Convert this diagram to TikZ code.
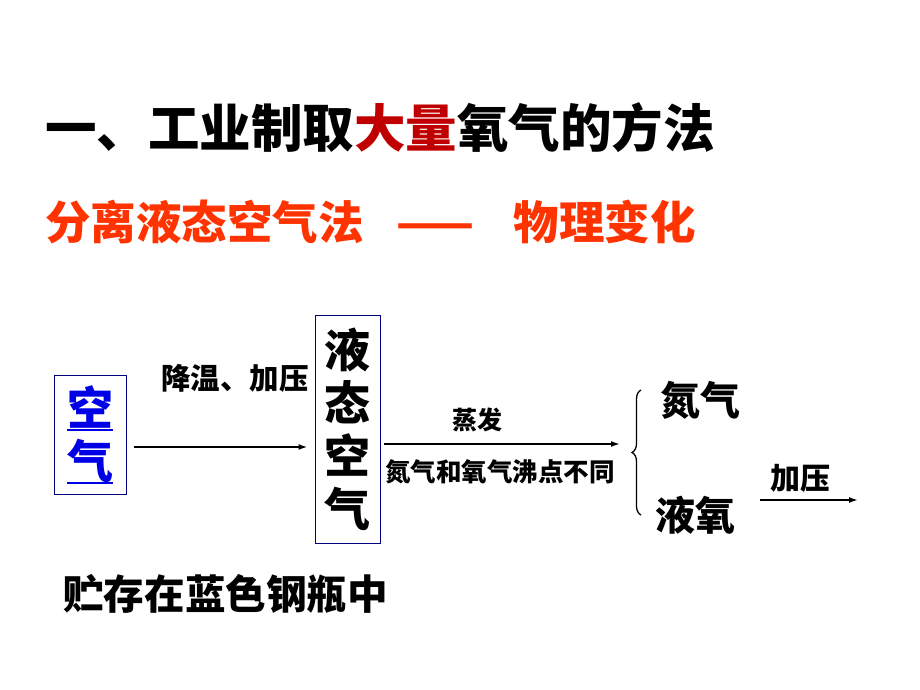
\documentclass[tikz,border=0pt]{standalone}
\usepackage{fontspec}
\newfontfamily\cjk{Noto Sans CJK SC}
\usetikzlibrary{arrows.meta,decorations.pathreplacing}
\definecolor{titlered}{RGB}{192,0,0}
\definecolor{methodred}{RGB}{255,51,0}
\definecolor{boxblue}{RGB}{0,0,128}
\definecolor{airblue}{RGB}{0,0,230}
\newcommand{\csize}[1]{\fontsize{#1}{53}\selectfont}
\newcommand{\ulchar}[1]{\rlap{\rule[-5pt]{1em}{1.5pt}}#1}
\begin{document}
\begin{tikzpicture}[x=1pt,y=-1pt,
  every node/.style={font=\cjk\bfseries, inner sep=0pt},
  stagebox/.style={draw=boxblue, line width=1pt, align=center},
  flow/.style={line width=1.6pt,-{Latex[length=9pt,width=6pt]}}]
\useasboundingbox (0,0) rectangle (920,690);

% headings
\node[anchor=west,font=\cjk\bfseries\csize{51.5}] (title) at (45,128) {一、工业制取\textcolor{titlered}{大量}氧气的方法};
\node[anchor=west,text=methodred,font=\cjk\bfseries\csize{45.5}] (method) at (45,222) {分离液态空气法\hspace{33pt}——\hspace{39pt}物理变化};

% the two boxes
\node[stagebox,text=airblue,minimum width=72pt,minimum height=119pt,font=\cjk\bfseries\csize{46}] (air) at (90,435) {\ulchar{空}\\\ulchar{气}};
\node[stagebox,minimum width=65pt,minimum height=228pt,font=\cjk\bfseries\csize{46}] (liqair) at (347.5,429) {液\\态\\空\\气};

\draw[flow] ([shift={(7,12)}]air.east) -- ([shift={(-7,18)}]liqair.west);
\node[font=\cjk\bfseries\csize{29.5}] (cool) at (235,378) {降温、加压};

\coordinate (split) at (620,444);
\draw[flow] ([shift={(3,15)}]liqair.east) -- (split);
\node[font=\cjk\bfseries\csize{25}] (boil) at (477,420) {蒸发};
\node[font=\cjk\bfseries\csize{25.5}] (reason) at (500,472) {氮气和氧气沸点不同};

% products
\draw[decorate,decoration={brace,amplitude=9pt},line width=1.3pt] (641,515) -- (641,390);
\node[font=\cjk\bfseries\csize{40}] (nitro) at (700,400) {氮气};
\node[font=\cjk\bfseries\csize{40}] (loxy) at (695,515) {液氧};
\node[font=\cjk\bfseries\csize{30}] (press) at (800,478) {加压};
\coordinate (tank) at (858,500);
\draw[flow] ([xshift=25pt]loxy.east |- tank) -- (tank);

\node[anchor=west,font=\cjk\bfseries\csize{40.6}] (store) at (63,594) {贮存在蓝色钢瓶中};
\end{tikzpicture}
\end{document}
